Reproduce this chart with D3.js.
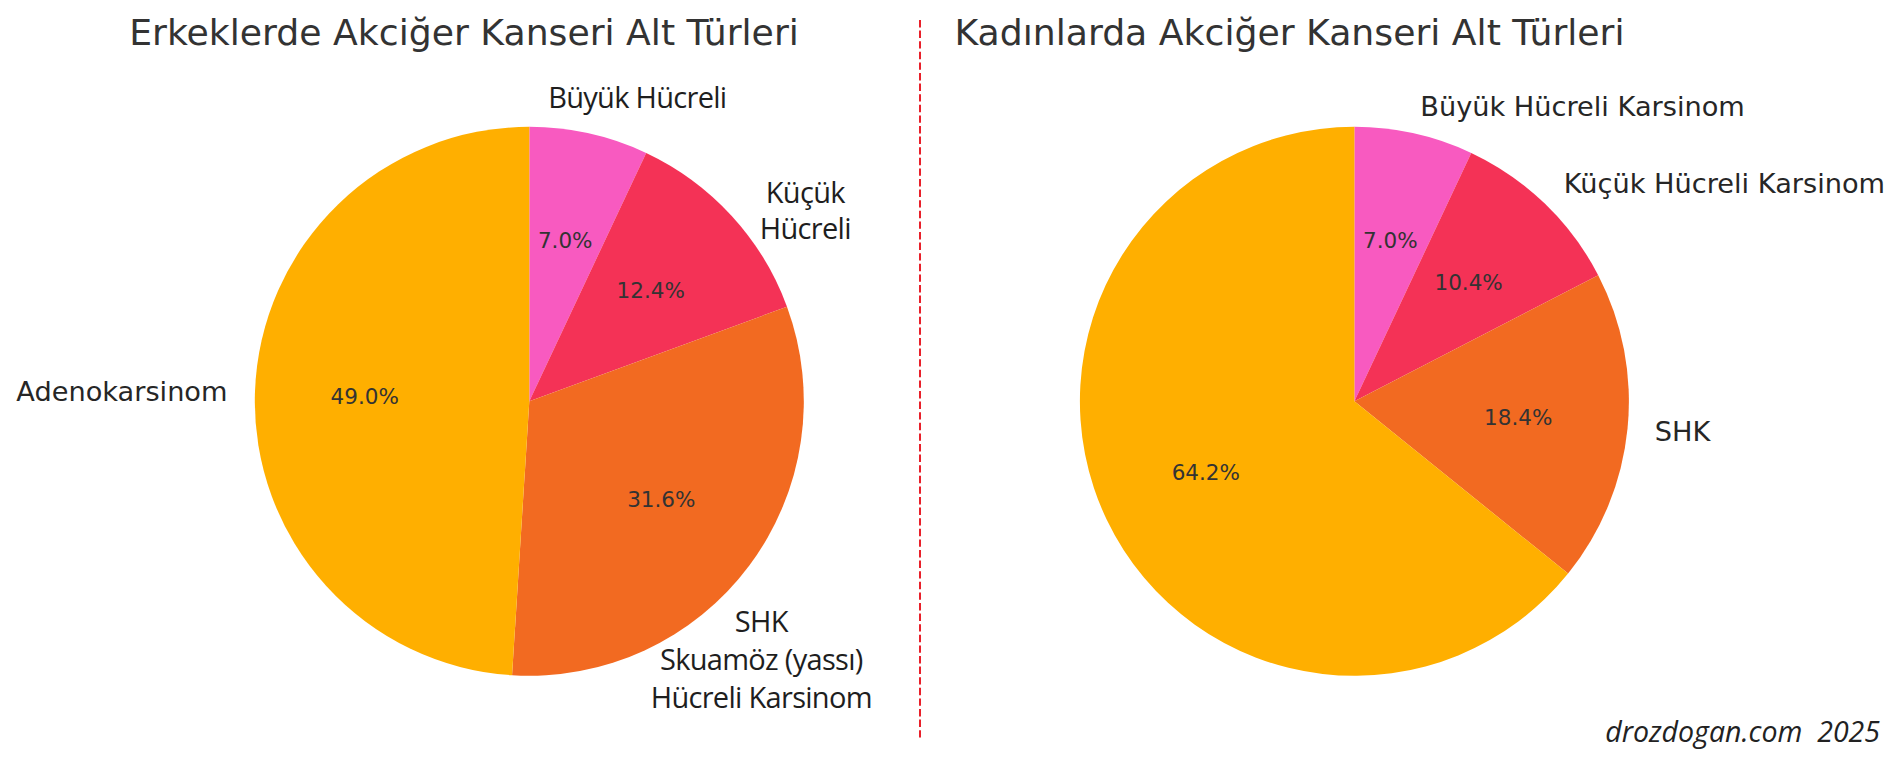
<!DOCTYPE html>
<html>
<head>
<meta charset="utf-8">
<script src="https://cdn.jsdelivr.net/npm/d3@7"></script>
<style>
  html, body { margin: 0; padding: 0; background: #fff; }
  svg { display: block; }
</style>
</head>
<body>
<svg id="chart" width="1900" height="762"></svg>
<script>
// ---- Data ----
const categories = ["Büyük Hücreli", "Küçük Hücreli", "SHK", "Adenokarsinom"];
const maleValues = [7.0, 12.4, 31.6, 49.0];
const femaleValues = [7.0, 10.4, 18.4, 64.2];
const colors = ["#F85AC0", "#F43256", "#F26A21", "#FFAF00"];
const titles = ["Erkeklerde Akciğer Kanseri Alt Türleri", "Kadınlarda Akciğer Kanseri Alt Türleri"];
// labels drawn by the pie routine (1.1 r)
const maleAutoLabels = ["", "", "", "Adenokarsinom"];
const femaleAutoLabels = ["Büyük Hücreli Karsinom", "Küçük Hücreli Karsinom", "SHK", ""];
// manually placed (overlaid) labels on the male chart
const maleOverlayLabels = [
  ["Büyük Hücreli"],
  ["Küçük", "Hücreli"],
  ["SHK", "Skuamöz (yassı)", "Hücreli Karsinom"]
];
const watermark = "drozdogan.com  2025";

// ---- Layout ----
const svg = d3.select("#chart");
const R = 274.5;
const centers = [{x: 529.3, y: 401.3}, {x: 1354.4, y: 401.3}];
const titleX = [464, 1289.5];

const pie = d3.pie().sort(null).value(d => d);
const arc = d3.arc().innerRadius(0).outerRadius(R);
const color = d3.scaleOrdinal().domain(categories).range(colors);

function drawPie(values, autoLabels, c, tx, title) {
  const g = svg.append("g").attr("transform", `translate(${c.x},${c.y})`);
  const arcs = pie(values);
  g.selectAll("path.slice").data(arcs).enter().append("path")
    .attr("class", "slice")
    .attr("d", arc)
    .attr("fill", (d, i) => color(categories[i]));

  // percentages at 0.6 r
  const pctArc = d3.arc().innerRadius(R * 0.6).outerRadius(R * 0.6);
  g.selectAll("text.pct").data(arcs).enter().append("text")
    .attr("class", "pct")
    .attr("transform", d => `translate(${pctArc.centroid(d)})`)
    .attr("text-anchor", "middle")
    .attr("dominant-baseline", "central")
    .attr("font-family", "DejaVu Sans")
    .attr("font-size", 21.5)
    .attr("fill", "#333")
    .text(d => d.value.toFixed(1) + "%");

  // labels at 1.1 r
  const lblArc = d3.arc().innerRadius(R * 1.1).outerRadius(R * 1.1);
  g.selectAll("text.lbl").data(arcs).enter().append("text")
    .attr("class", "lbl")
    .attr("transform", d => `translate(${lblArc.centroid(d)})`)
    .attr("text-anchor", d => lblArc.centroid(d)[0] < 0 ? "end" : "start")
    .attr("dominant-baseline", "central")
    .attr("font-family", "DejaVu Sans")
    .attr("font-size", 27.2)
    .attr("fill", "#262626")
    .text((d, i) => autoLabels[i]);

  svg.append("text")
    .attr("x", tx).attr("y", 45)
    .attr("text-anchor", "middle")
    .attr("font-family", "DejaVu Sans")
    .attr("font-size", 36.2)
    .attr("fill", "#333")
    .text(title);
  return arcs;
}

drawPie(maleValues, maleAutoLabels, centers[0], titleX[0], titles[0]);
drawPie(femaleValues, femaleAutoLabels, centers[1], titleX[1], titles[1]);

// overlay labels (Myriad-like font) on male chart, offsets relative to pie centre
const overlayPos = [
  {dx: 108, dy: -293, lh: 0},
  {dx: 276, dy: -198, lh: 35.5},
  {dx: 232, dy: 231, lh: 38}
];
maleOverlayLabels.forEach((lines, k) => {
  const p = overlayPos[k];
  const t = svg.append("text")
    .attr("text-anchor", "middle")
    .attr("font-family", "'Open Sans', sans-serif")
    .attr("font-size", 29)
    .attr("letter-spacing", -0.7)
    .attr("fill", "#1e1e1e");
  lines.forEach((ln, j) => {
    t.append("tspan")
      .attr("x", centers[0].x + p.dx)
      .attr("y", centers[0].y + p.dy + j * p.lh)
      .text(ln);
  });
});

// dashed divider
svg.append("line")
  .attr("x1", 920).attr("x2", 920)
  .attr("y1", 20).attr("y2", 739)
  .attr("stroke", "#e8202a")
  .attr("stroke-width", 2)
  .attr("stroke-dasharray", "7.4,3.2");

// watermark
svg.append("text")
  .attr("x", 1880).attr("y", 742)
  .attr("text-anchor", "end")
  .attr("font-family", "'Open Sans', sans-serif")
  .attr("font-style", "italic")
  .attr("font-size", 28.5)
  .attr("letter-spacing", 0)
  .attr("fill", "#222")
  .style("white-space", "pre")
  .text(watermark);
</script>
</body>
</html>
